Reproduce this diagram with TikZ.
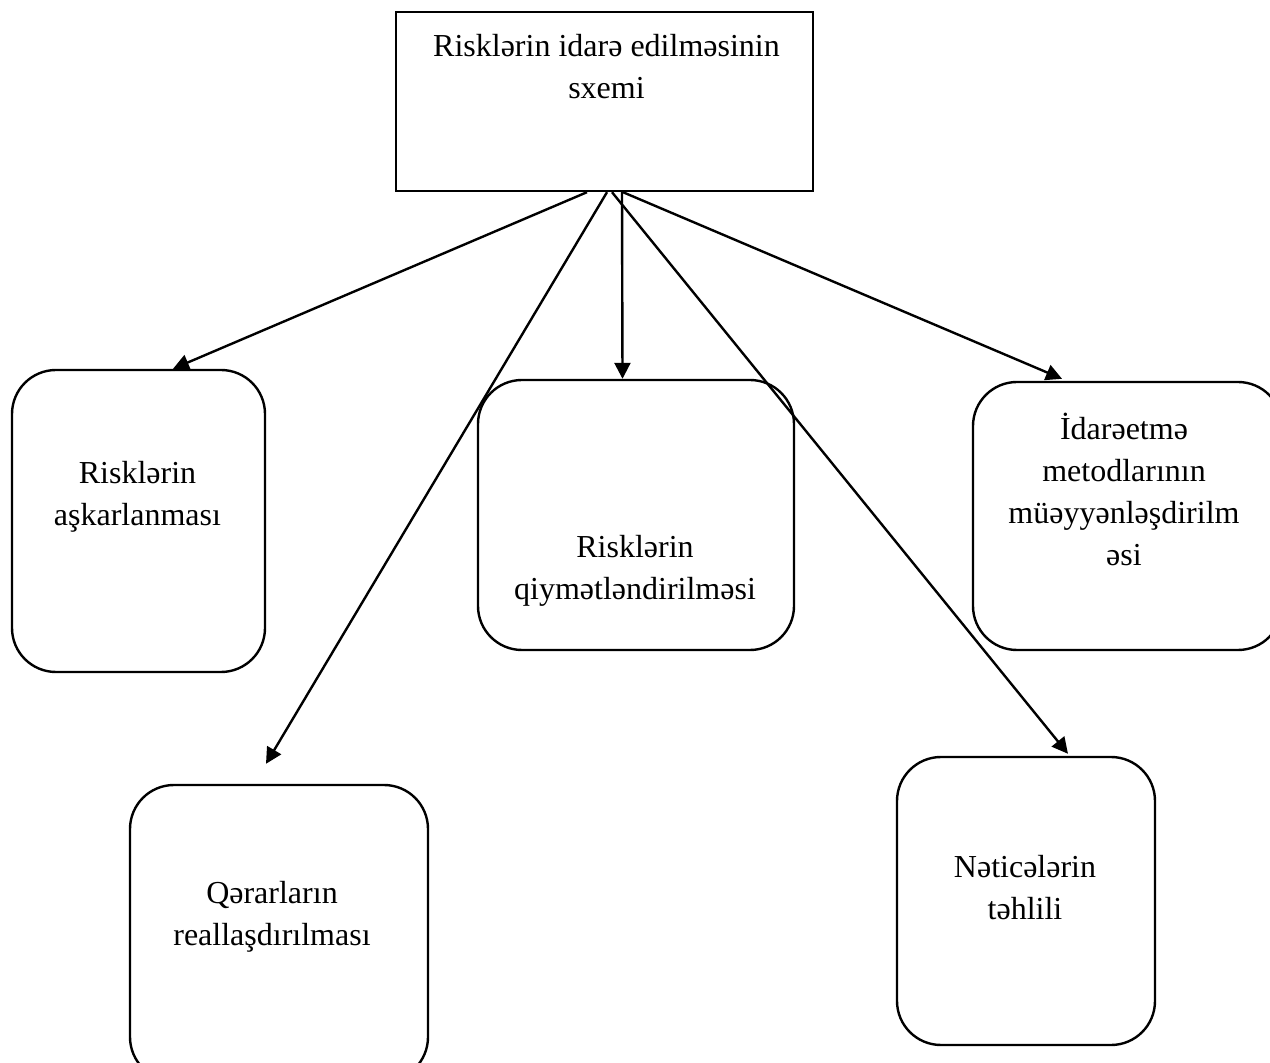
\documentclass[tikz,border=0pt]{standalone}
\usepackage{fontspec}
\setmainfont{Liberation Serif}
\usetikzlibrary{arrows.meta,calc}

\begin{document}
\begin{tikzpicture}[x=0.5pt,y=-0.5pt,
    box/.style={draw,line width=1.2pt,rounded corners=22pt,inner sep=0pt},
    lbl/.style={align=center,inner sep=0pt,font=\fontsize{16}{21}\selectfont},
    arr/.style={-{Triangle[length=8pt,width=8pt]},line width=1.2pt}]
  \useasboundingbox (0,0) rectangle (1270,1063);
  \clip (0,0) rectangle (1270,1063);
  % top box
  \node[draw,line width=1.2pt,inner sep=0pt,minimum width=208.5pt,minimum height=89.5pt] (sxem) at (604.5,101.5) {};
  \node[lbl] (sxem-t) at (606.5,67) {Risklərin idarə edilməsinin\\sxemi};
  % rounded boxes
  \foreach \n/\x/\y/\w/\h/\tx/\ty/\t in {askar/138.5/521/126.5/151/137.5/497/{Risklərin\\aşkarlanması},
      qiymet/636/515/158/135/635/571/{Risklərin\\qiymətləndirilməsi},
      idare/1127.5/516/154.5/134/1124/489/{İdarəetmə\\metodlarının\\müəyyənləşdirilm\\əsi},
      qerar/279/933/149/148/272/917/{Qərarların\\reallaşdırılması},
      netice/1026/901/129/144/1025/888/{Nəticələrin\\təhlili}}{
    \node[box,minimum width=\w pt,minimum height=\h pt] (\n) at (\x,\y) {};
    \node[lbl] (\n-t) at (\tx,\ty) {\t};
  }
  % arrows
  \draw[arr] ($(sxem.south)+(-17.5,0)$) -- ($(askar.north)+(34.5,0)$);
  \draw[arr] ($(sxem.south)+(2.5,0)$) -- ($(qerar.north)+(-13,-20)$);
  \draw[arr] ($(sxem.south)+(7.5,0)$) -- ($(netice.north)+(42,-2)$);
  \draw[arr] ($(sxem.south)+(17.5,0)$) -- ($(qiymet.north)+(-13.5,0)$);
  \draw[arr] ($(sxem.south)+(18.5,0)$) -- ($(idare.north)+(-65.5,-2)$);
\end{tikzpicture}
\end{document}
